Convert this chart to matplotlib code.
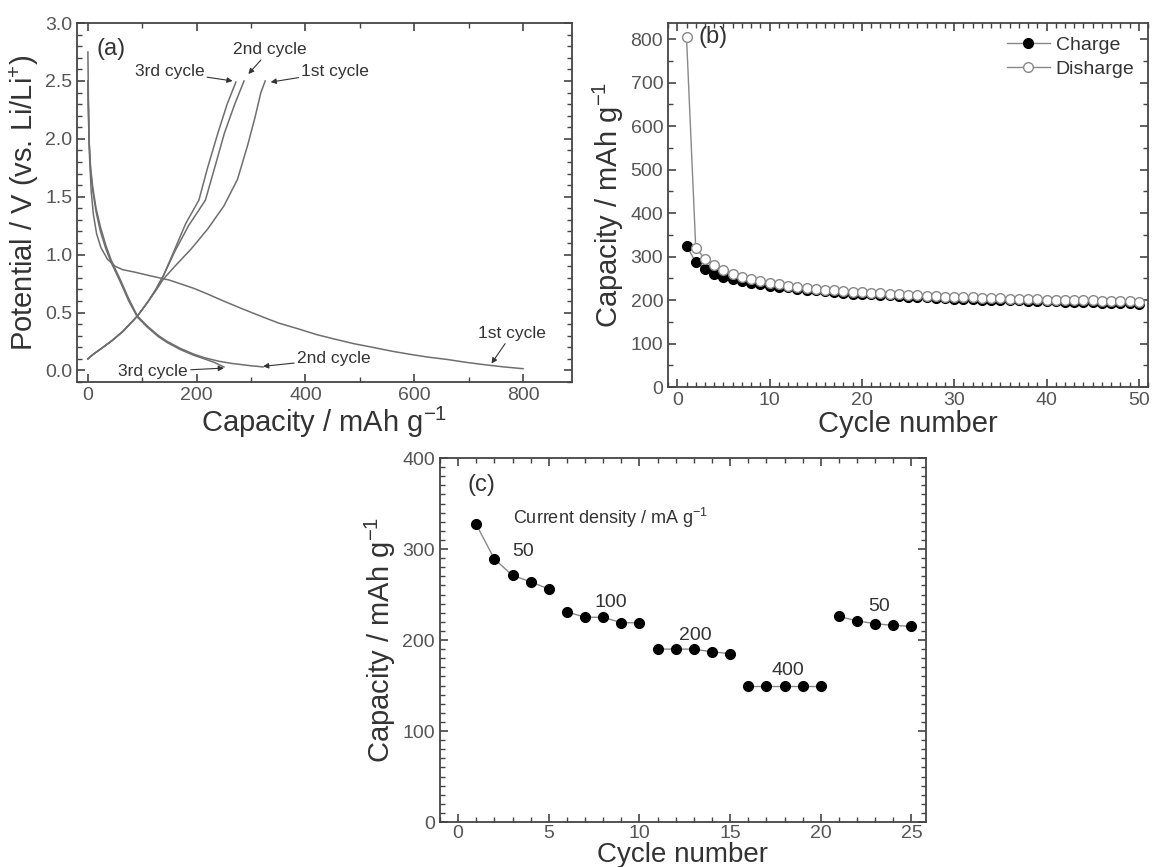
import matplotlib.pyplot as plt
from matplotlib.ticker import MultipleLocator

plt.rcParams['font.family'] = ['Liberation Sans', 'DejaVu Sans']
plt.rcParams['mathtext.fontset'] = 'custom'
plt.rcParams['mathtext.rm'] = 'Liberation Sans'
plt.rcParams['mathtext.it'] = 'Liberation Sans:italic'
plt.rcParams['mathtext.bf'] = 'Liberation Sans:bold'

# ---- data (a): voltage profiles (capacity mAh/g, potential V)
cap_d1 = [0, 1, 3, 6, 10, 16, 24, 36, 50, 64, 85, 112, 150, 194, 220, 249, 285, 317,
          350, 386, 420, 454, 490, 523, 560, 591, 625, 660, 695, 728, 765, 800]
v_d1 = [2.75, 2.3, 1.85, 1.55, 1.35, 1.18, 1.06, 0.96, 0.9, 0.87, 0.85, 0.82, 0.78, 0.71,
        0.66, 0.6, 0.53, 0.47, 0.41, 0.36, 0.31, 0.27, 0.23, 0.2, 0.165, 0.14, 0.115,
        0.095, 0.07, 0.05, 0.03, 0.015]
cap_d2 = [0, 2, 5, 9, 15, 23, 33, 43, 60, 75, 91, 110, 130, 146, 170, 195, 214, 240,
          265, 283, 300, 312, 322]
v_d2 = [2.5, 2.0, 1.75, 1.58, 1.4, 1.24, 1.08, 0.95, 0.78, 0.62, 0.47, 0.38, 0.3, 0.25,
        0.19, 0.14, 0.11, 0.08, 0.06, 0.05, 0.04, 0.035, 0.03]
cap_d3 = [0, 2, 5, 9, 15, 23, 33, 43, 60, 75, 91, 110, 130, 146, 170, 195, 214, 232, 250]
v_d3 = [2.5, 1.98, 1.72, 1.55, 1.37, 1.2, 1.05, 0.93, 0.76, 0.6, 0.46, 0.37, 0.29, 0.24,
        0.18, 0.13, 0.1, 0.07, 0.03]
cap_c1 = [0, 10, 25, 45, 65, 91, 110, 125, 139, 160, 190, 220, 250, 275, 294, 308, 318, 326]
v_c1 = [0.1, 0.14, 0.19, 0.26, 0.34, 0.47, 0.59, 0.69, 0.79, 0.9, 1.05, 1.22, 1.42, 1.65,
        1.95, 2.2, 2.4, 2.5]
cap_c2 = [0, 10, 25, 45, 65, 91, 110, 125, 139, 160, 185, 216, 233, 251, 270, 287]
v_c2 = [0.1, 0.14, 0.19, 0.26, 0.34, 0.47, 0.59, 0.7, 0.82, 1.03, 1.25, 1.47, 1.75, 2.05,
        2.3, 2.5]
cap_c3 = [0, 10, 25, 45, 65, 91, 110, 125, 139, 160, 180, 204, 220, 239, 256, 272]
v_c3 = [0.1, 0.14, 0.19, 0.26, 0.34, 0.47, 0.59, 0.7, 0.82, 1.05, 1.27, 1.47, 1.75, 2.05,
        2.3, 2.49]

# ---- data (b): cycling
cycles_b = list(range(1, 51))
charge_b = [325, 287, 272, 260, 253, 248, 243, 239, 236, 233, 231, 229, 226, 224, 222,
            220, 218, 216, 215, 214, 213, 212, 211, 210, 208, 207, 206, 205, 204, 203,
            202, 202, 201, 201, 200, 199, 199, 198, 198, 197, 197, 196, 196, 195, 195,
            194, 194, 193, 193, 192]
discharge_b = [805, 320, 295, 280, 268, 260, 253, 248, 243, 239, 236, 233, 230, 228, 226,
               224, 222, 220, 219, 218, 217, 216, 215, 214, 212, 211, 210, 209, 208, 207,
               206, 206, 205, 205, 204, 203, 203, 202, 202, 201, 201, 200, 200, 199, 199,
               198, 198, 197, 197, 196]

# ---- data (c): rate capability
rate_labels = ['50', '100', '200', '400', '50']
rate_cycles = [[1, 2, 3, 4, 5], [6, 7, 8, 9, 10], [11, 12, 13, 14, 15],
               [16, 17, 18, 19, 20], [21, 22, 23, 24, 25]]
rate_caps = [[327, 289, 271, 264, 256], [231, 225, 225, 219, 219],
             [190, 190, 190, 187, 185], [150, 150, 150, 150, 150],
             [226, 221, 218, 216, 215]]

txt = '#333333'
tick_col = '#555555'
curve_col = '#6e6e6e'

fig = plt.figure(figsize=(11.53, 8.67), dpi=100)
ax_a = fig.add_axes([0.0668, 0.5594, 0.4293, 0.414])
ax_b = fig.add_axes([0.5794, 0.5536, 0.4163, 0.4198])
ax_c = fig.add_axes([0.3816, 0.0519, 0.4215, 0.4198])


def style(ax):
    for s in ax.spines.values():
        s.set_color('#444444')
        s.set_linewidth(1.3)
    ax.tick_params(which='both', direction='in', top=True, right=True,
                   colors='#444444', labelcolor=tick_col, labelsize=14)
    ax.tick_params(which='major', length=6, width=1.2)
    ax.tick_params(which='minor', length=3.5, width=1)


# ---- panel (a)
for cx, vy in [(cap_d1, v_d1), (cap_d2, v_d2), (cap_d3, v_d3),
               (cap_c1, v_c1), (cap_c2, v_c2), (cap_c3, v_c3)]:
    ax_a.plot(cx, vy, color=curve_col, lw=1.1)
ax_a.set_xlim(-20, 890)
ax_a.set_ylim(-0.1, 3.0)
ax_a.xaxis.set_major_locator(MultipleLocator(200))
ax_a.xaxis.set_minor_locator(MultipleLocator(100))
ax_a.yaxis.set_major_locator(MultipleLocator(0.5))
ax_a.yaxis.set_minor_locator(MultipleLocator(0.1))
ax_a.yaxis.set_major_formatter(plt.FormatStrFormatter('%.1f'))
style(ax_a)
ax_a.set_xlabel('Capacity / mAh g$^{-1}$', fontsize=21, color=txt, labelpad=1)
ax_a.set_ylabel('Potential / V (vs. Li/Li$^{+}$)', fontsize=21, color=txt, labelpad=3)
ax_a.text(15, 2.78, '(a)', fontsize=17, color=txt, va='center')

ap = dict(arrowstyle='-|>', color='#333333', lw=0.8, mutation_scale=8, shrinkA=0, shrinkB=0)
ax_a.annotate('3rd cycle', xy=(266, 2.5), xytext=(150, 2.58), fontsize=12.5, color=txt,
              ha='center', va='center', arrowprops=ap)
ax_a.annotate('2nd cycle', xy=(295, 2.56), xytext=(335, 2.77), fontsize=12.5, color=txt,
              ha='center', va='center', arrowprops=ap)
ax_a.annotate('1st cycle', xy=(336, 2.49), xytext=(455, 2.58), fontsize=12.5, color=txt,
              ha='center', va='center', arrowprops=ap)
ax_a.annotate('1st cycle', xy=(742, 0.06), xytext=(780, 0.32), fontsize=12.5, color=txt,
              ha='center', va='center', arrowprops=ap)
ax_a.annotate('2nd cycle', xy=(322, 0.035), xytext=(452, 0.10), fontsize=12.5, color=txt,
              ha='center', va='center', arrowprops=ap)
ax_a.annotate('3rd cycle', xy=(250, 0.02), xytext=(120, -0.01), fontsize=12.5, color=txt,
              ha='center', va='center', arrowprops=ap)

# ---- panel (b)
ax_b.plot(cycles_b, charge_b, color='#888888', lw=1, marker='o', ms=7,
          mfc='black', mec='black', label='Charge')
ax_b.plot(cycles_b, discharge_b, color='#888888', lw=1, marker='o', ms=7,
          mfc='white', mec='#888888', label='Disharge')
ax_b.set_xlim(-1, 51)
ax_b.set_ylim(0, 837)
ax_b.xaxis.set_major_locator(MultipleLocator(10))
ax_b.xaxis.set_minor_locator(MultipleLocator(1))
ax_b.yaxis.set_major_locator(MultipleLocator(100))
ax_b.yaxis.set_minor_locator(MultipleLocator(50))
style(ax_b)
ax_b.set_xlabel('Cycle number', fontsize=21, color=txt, labelpad=1)
ax_b.set_ylabel('Capacity / mAh g$^{-1}$', fontsize=21, color=txt, labelpad=3)
ax_b.text(2.3, 805, '(b)', fontsize=17, color=txt, va='center')
leg = ax_b.legend(loc='upper right', frameon=False, fontsize=14, handlelength=2.2,
                  handletextpad=0.3, borderaxespad=0.3, labelspacing=0.3)
for t in leg.get_texts():
    t.set_color(txt)

# ---- panel (c)
for xs, ys in zip(rate_cycles, rate_caps):
    ax_c.plot(xs, ys, color='#888888', lw=1, marker='o', ms=7, mfc='black', mec='black')
label_pos = [(3.6, 297), (8.4, 241), (13.1, 205), (18.2, 166), (23.2, 237)]
for lab, (lx, ly) in zip(rate_labels, label_pos):
    ax_c.text(lx, ly, lab, fontsize=14, color=txt, ha='center', va='center')
ax_c.text(0.5, 370, '(c)', fontsize=17, color=txt, va='center')
ax_c.text(3.0, 334, 'Current density / mA g$^{-1}$', fontsize=13, color=txt, va='center')
ax_c.set_xlim(-1, 25.8)
ax_c.set_ylim(0, 400)
ax_c.xaxis.set_major_locator(MultipleLocator(5))
ax_c.xaxis.set_minor_locator(MultipleLocator(1))
ax_c.yaxis.set_major_locator(MultipleLocator(100))
ax_c.yaxis.set_minor_locator(MultipleLocator(10))
style(ax_c)
ax_c.tick_params(axis='x', pad=2)
ax_c.set_xlabel('Cycle number', fontsize=20, color=txt, labelpad=0)
ax_c.set_ylabel('Capacity / mAh g$^{-1}$', fontsize=21, color=txt, labelpad=3)

fig.savefig('out.png', dpi=100)
